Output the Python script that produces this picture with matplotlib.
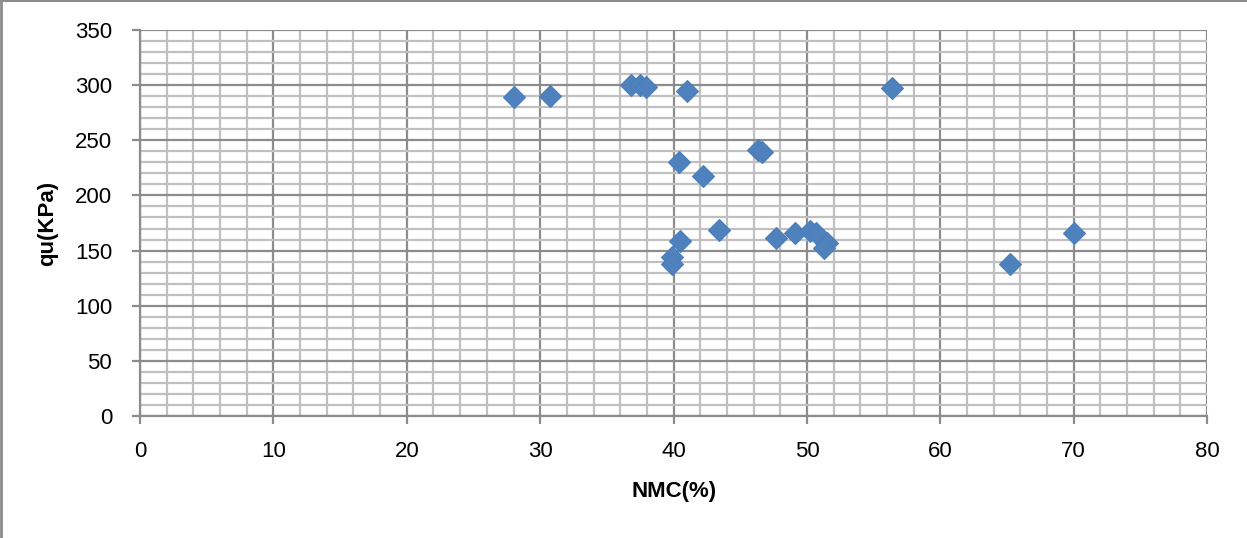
import matplotlib
matplotlib.use("Agg")
import matplotlib.pyplot as plt
from matplotlib.ticker import MultipleLocator
from matplotlib.lines import Line2D

# NMC (%) vs unconfined compressive strength qu (kPa)
nmc = [28.0, 30.7, 36.8, 37.5, 37.9, 41.0, 56.4, 46.3, 46.6, 40.4, 42.2, 43.4,
       40.5, 39.9, 39.9, 47.7, 49.1, 50.2, 50.7, 51.5, 51.3, 65.2, 70.0]
qu = [289, 290, 300, 300, 298, 295, 297, 241, 239, 230, 217.5, 168.5,
      159, 144.5, 138, 161, 165.5, 167.5, 166, 157, 152, 138, 165.5]

x_ticks = list(range(0, 81, 10))
y_ticks = list(range(0, 351, 50))

plt.rcParams['font.family'] = ['Liberation Sans', 'DejaVu Sans']

fig = plt.figure(figsize=(12.47, 5.38), dpi=100)
ax = fig.add_axes([0.1123, 0.2268, 0.968 - 0.1123, 0.9442 - 0.2268])

major_c = '#8c8c8c'
minor_c = '#c0c0c0'

ax.set_xlim(0, 80)
ax.set_ylim(0, 350)
ax.set_xticks(x_ticks)
ax.set_yticks(y_ticks)
ax.xaxis.set_minor_locator(MultipleLocator(2))
ax.yaxis.set_minor_locator(MultipleLocator(10))
ax.grid(which='minor', color=minor_c, linewidth=1.6, zorder=0)
ax.grid(which='major', color=major_c, linewidth=1.6, zorder=1)
ax.set_axisbelow(True)

ax.plot(nmc, qu, linestyle='none', marker='D', markersize=11,
        markerfacecolor='#4f81bd', markeredgecolor='#4a7ebb',
        markeredgewidth=0.8, zorder=3, clip_on=False)

for side in ('top', 'right'):
    ax.spines[side].set_visible(False)
for side in ('left', 'bottom'):
    ax.spines[side].set_color(major_c)
    ax.spines[side].set_linewidth(1.6)

ax.tick_params(which='major', direction='out', length=6, width=1.6,
               color=major_c, labelsize=16, labelcolor='black')
ax.tick_params(axis='y', pad=14)
ax.tick_params(axis='x', pad=12)
ax.tick_params(which='minor', length=0)

ax.set_xlabel('NMC(%)', fontsize=16, fontweight='bold', labelpad=14)
ax.set_ylabel('qu(KPa)', fontsize=16, fontweight='bold', labelpad=12)

# outer chart frame (only left and top edges show in the crop)
fig.add_artist(Line2D([0.001, 0.001], [0, 1], color='#8c8c8c', linewidth=2,
                      transform=fig.transFigure))
fig.add_artist(Line2D([0, 1], [0.999, 0.999], color='#8c8c8c', linewidth=1.5,
                      transform=fig.transFigure))

fig.savefig('out.png', dpi=100)
